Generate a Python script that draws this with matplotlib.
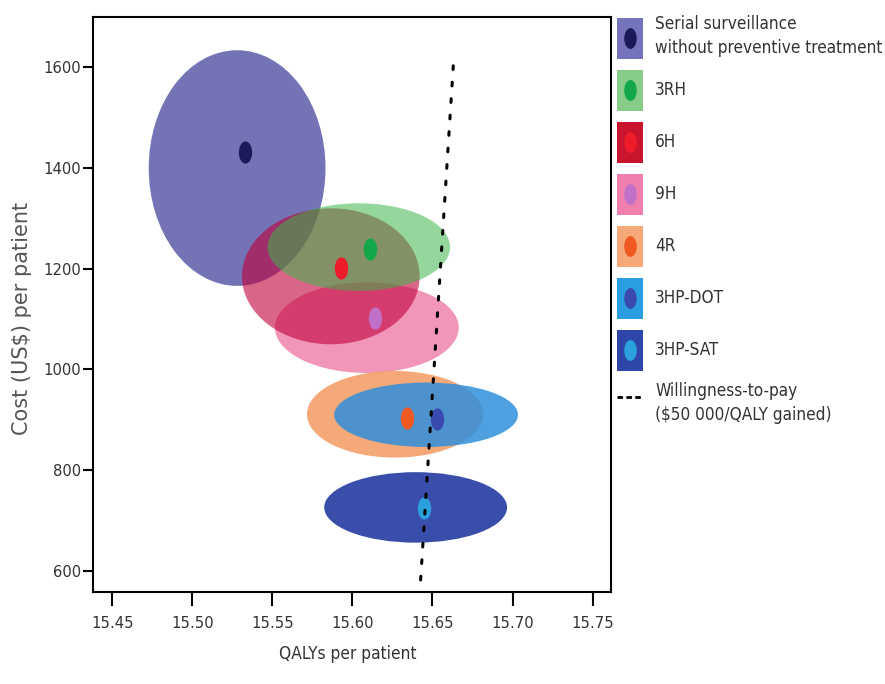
import os
import numpy as np
import matplotlib
matplotlib.use("Agg")
import matplotlib.pyplot as plt
from matplotlib import font_manager as fm
from matplotlib.font_manager import FontProperties
from matplotlib.patches import Ellipse, Rectangle
from matplotlib.lines import Line2D
from matplotlib.path import Path
from matplotlib.transforms import Affine2D
from matplotlib.legend_handler import HandlerBase

# strategies, point estimates and the 95% confidence ellipses
strategies = ["Serial surveillance\nwithout preventive treatment", "3RH", "6H", "9H",
              "4R", "3HP-DOT", "3HP-SAT"]
qaly = [15.533, 15.611, 15.593, 15.614, 15.634, 15.653, 15.645]
cost = [1431, 1239, 1201, 1102, 904, 902, 725]

ell_qaly = [15.528, 15.604, 15.5865, 15.609, 15.6266, 15.646, 15.6395]
ell_cost = [1400, 1243, 1185, 1083, 911, 910, 726]
ell_halfw = [0.0552, 0.057, 0.0555, 0.0574, 0.055, 0.0574, 0.0571]
ell_halfh = [234, 87, 135, 90, 86, 64, 70]

# willingness-to-pay threshold, $50 000 per QALY gained
wtp_qaly = [15.6426, 15.6635]
wtp_cost = [582, 1628]

xticks = [15.45, 15.50, 15.55, 15.60, 15.65, 15.70, 15.75]
xticklabels = ["15.45", "15.50", "15.55", "15.60", "15.65", "15.70", "15.75"]
yticks = [600, 800, 1000, 1200, 1400, 1600]

fill_cols = ["#6e6eb4", "#3cb54a", "#c0003a", "#e8508a", "#f59a60", "#2f8fdc", "#2e44a6"]
fill_alpha = [0.97, 0.55, 0.6, 0.6, 0.85, 0.85, 0.95]
swatch_cols = ["#7474bc", "#86cc86", "#c8142c", "#f07fb0", "#f6a878", "#2a9ee2", "#2e46aa"]
dot_cols = ["#1c1a5a", "#12a84a", "#ee1c2a", "#c070c8", "#f05a22", "#3a4ab0", "#2aa0dc"]
draw_order = [0, 3, 2, 1, 4, 5, 6]

# narrow font for ticks / legend, with fallbacks
narrow = None
for f in fm.fontManager.ttflist:
    if os.path.basename(f.fname).startswith("LiberationSansNarrow-Regular"):
        narrow = f.fname
        break
if narrow is None:
    for f in fm.fontManager.ttflist:
        if os.path.basename(f.fname) == "DejaVuSansCondensed.ttf":
            narrow = f.fname
            break

def font(size, digits=False):
    if narrow is not None:
        sc = 1.0 if "Liberation" in narrow else 0.86
        return FontProperties(fname=narrow, size=size*sc)
    return FontProperties(family="Lato", size=size*(0.8 if digits else 0.88))

# tall oval marker for the point estimates
oval = Path.unit_circle().transformed(Affine2D().scale(0.6, 1.0))


class Swatch:
    def __init__(self, fill, dot):
        self.fill = fill
        self.dot = dot


class SwatchHandler(HandlerBase):
    # coloured block with the estimate dot in its middle
    def create_artists(self, legend, orig_handle, xdescent, ydescent, width, height,
                       fontsize, trans):
        r = Rectangle((-xdescent, -ydescent), width, height, facecolor=orig_handle.fill,
                      edgecolor='none', transform=trans)
        m = Line2D([width/2 - xdescent], [height/2 - ydescent], marker=oval, ms=15,
                   color=orig_handle.dot, mec='none', ls='none', transform=trans)
        return [r, m]


fig = plt.figure(figsize=(8.85, 6.84), dpi=100)
ax = fig.add_axes([93/885, 1-592/684, 518/885, 575/684])

for k, i in enumerate(draw_order):
    e = Ellipse((ell_qaly[i], ell_cost[i]), 2*ell_halfw[i], 2*ell_halfh[i],
                facecolor=fill_cols[i], alpha=fill_alpha[i], edgecolor='none', zorder=1+k*0.1)
    ax.add_patch(e)
for i in range(len(qaly)):
    ax.plot(qaly[i], cost[i], marker=oval, ms=16, color=dot_cols[i], mec='none',
            ls='none', zorder=3)

ax.plot(wtp_qaly, wtp_cost, color='black', lw=2.2, ls=(0, (1.2, 4.2)),
        dash_capstyle='round', zorder=4)

ax.set_xlim(15.438, 15.7615)
ax.set_ylim(558, 1700)
ax.set_xticks(xticks)
ax.set_xticklabels(xticklabels)
ax.set_yticks(yticks)
ax.tick_params(axis='x', length=10, width=1.5, pad=7, labelcolor='#333333')
ax.tick_params(axis='y', length=7, width=1.5, pad=1.5, labelcolor='#333333')
for lab in ax.get_xticklabels() + ax.get_yticklabels():
    lab.set_fontproperties(font(13.8, digits=True))
for s in ax.spines.values():
    s.set_linewidth(1.5)

fig.text(348/885, 1-654/684, "QALYs per patient", ha='center', va='center',
         fontproperties=font(14.4), color='#333333')
fig.text(22/885, 1-318/684, "Cost (US$) per patient", ha='center', va='center',
         rotation=90, fontsize=15, color='#555555', family='DejaVu Sans')

handles = [Swatch(swatch_cols[i], dot_cols[i]) for i in range(len(strategies))]
handles.append(Line2D([], [], color='black', lw=2, ls=(0, (2, 1.2))))
labels = strategies + ["Willingness-to-pay\n($50 000/QALY gained)"]

# legend swatches are about 26 x 41 px, rows 11 px apart
lfp = font(14.3)
em = lfp.get_size_in_points() * 100 / 72
hh = (41/em - 0.245) / 0.65
leg = fig.legend(handles, labels, loc='upper left', bbox_to_anchor=(617/885, 1-15/684),
                 frameon=False, prop=lfp, handlelength=26/em, handleheight=hh,
                 handletextpad=12/em, labelspacing=11/em, borderpad=0, borderaxespad=0,
                 handler_map={Swatch: SwatchHandler()}, labelcolor='#333333')
for t in leg.get_texts():
    t.set_linespacing(1.45)

fig.savefig("out.png", dpi=100)
